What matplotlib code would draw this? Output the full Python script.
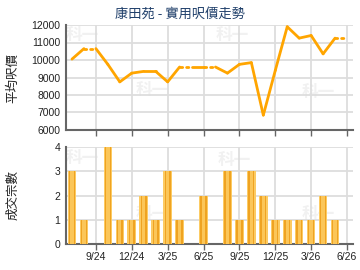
import numpy as np
import matplotlib
matplotlib.use('Agg')
import matplotlib.pyplot as plt

plt.rcParams['font.family'] = ['Liberation Sans', 'Noto Sans CJK TC', 'DejaVu Sans']

months = ['7/24', '8/24', '9/24', '10/24', '11/24', '12/24', '1/25', '2/25', '3/25',
          '4/25', '5/25', '6/25', '7/25', '8/25', '9/25', '10/25', '11/25', '12/25',
          '1/26', '2/26', '3/26', '4/26', '5/26', '6/26']
prices = [10050, 10650, np.nan, 9750, 8750, 9250, 9350, 9350, 8750, 9600, np.nan, 9600,
          np.nan, 9250, 9750, 9850, 6850, 9400, 11900, 11250, 11400, 10350, 11250, np.nan]
deals = [3, 1, 0, 4, 1, 1, 2, 1, 3, 1, 0, 2, 0, 3, 1, 3, 2, 1, 1, 1, 1, 2, 1, 0]
tick_labels = ['9/24', '12/24', '3/25', '6/25', '9/25', '12/25', '3/26', '6/26']

W, H = 360, 270
fig = plt.figure(figsize=(3.6, 2.7), dpi=100)

def px_axes(l, t, r, b):
    return fig.add_axes([l / W, 1 - b / H, (r - l) / W, (b - t) / H])

ax1 = px_axes(66, 25, 353, 130)
ax2 = px_axes(66, 147, 353, 244)

x = np.arange(len(months))
tick_pos = [months.index(m) for m in tick_labels]
orange = '#FFA500'
grid_c = '#DDDDDD'
axis_c = '#666666'

# forward-fill missing months, drawn dotted
filled = list(prices)
for i in range(1, len(filled)):
    if np.isnan(filled[i]):
        filled[i] = filled[i - 1]
for i in range(len(x) - 1):
    ls = (0, (0.8, 1.4)) if np.isnan(prices[i + 1]) else '-'
    ax1.plot(x[i:i + 2], filled[i:i + 2], color=orange, lw=2, ls=ls,
             solid_capstyle='round', dash_capstyle='round', zorder=3)

# bars with simple banded shading
ax2.bar(x, deals, width=0.72, color='#FCCB63', edgecolor='none', zorder=3)
ax2.bar(x, deals, width=0.52, color='#EFA322', edgecolor='none', zorder=3)
ax2.bar(x, deals, width=0.28, color='#FBC659', edgecolor='none', zorder=3)

ax1.set_ylim(6000, 12000)
ax1.set_yticks(range(6000, 12001, 1000))
ax2.set_ylim(0, 4)
ax2.set_yticks(range(0, 5))

for ax in (ax1, ax2):
    ax.set_xlim(-0.5, len(months) - 0.5)
    ax.set_xticks(tick_pos)
    ax.grid(True, color=grid_c, lw=1.3, zorder=0)
    ax.set_axisbelow(True)
    for s in ('top', 'right'):
        ax.spines[s].set_visible(False)
    for s in ('left', 'bottom'):
        ax.spines[s].set_color(axis_c)
        ax.spines[s].set_linewidth(1.5)
    ax.tick_params(axis='y', length=0, pad=4, labelsize=7.5, labelcolor='#222222')
    ax.tick_params(axis='x', length=4, color=axis_c, width=1, labelsize=7.5,
                   labelcolor='#222222', pad=2)

ax1.set_xticklabels([])
ax2.set_xticklabels(tick_labels)

# watermarks
marks = [(82, 35), (232, 35), (152, 90), (318, 92),
         (82, 158), (234, 160), (152, 214), (318, 214)]
for mx, my in marks:
    fig.text(mx / W, 1 - my / H, '科一', family='Noto Sans CJK TC', fontweight='bold',
             fontsize=12, color='#F1F1F1', ha='center', va='center', zorder=-1)
ax1.set_facecolor('none')
ax2.set_facecolor('none')

fig.text(180 / W, 1 - 14 / H, '康田苑 - 實用呎價走勢', family=['Noto Sans CJK TC', 'DejaVu Sans'],
         fontsize=9.5, color='#1F3F6A', ha='center', va='center')
fig.text(13 / W, 1 - 78 / H, '平均呎價', family='Noto Sans CJK TC', fontsize=9,
         rotation=90, ha='center', va='center', color='#222222')
fig.text(13 / W, 1 - 195 / H, '成交宗數', family='Noto Sans CJK TC', fontsize=9,
         rotation=90, ha='center', va='center', color='#222222')

fig.savefig('out.png', dpi=100)
